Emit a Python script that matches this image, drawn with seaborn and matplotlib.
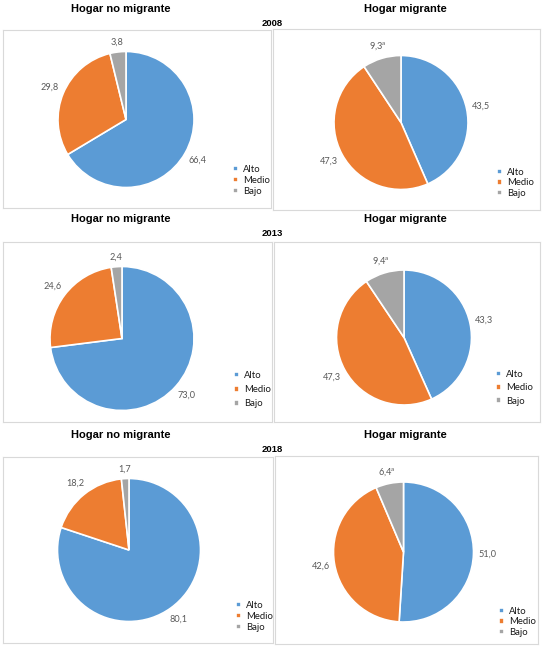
import numpy as np
import matplotlib
matplotlib.use("Agg")
import matplotlib.pyplot as plt
import seaborn as sns

# ---------------- data ----------------
categories = ["Alto", "Medio", "Bajo"]
years = ["2008", "2013", "2018"]
panel_titles = ["Hogar no migrante", "Hogar migrante"]

no_migrante_2008 = [66.4, 29.8, 3.8]
migrante_2008 = [43.5, 47.3, 9.3]
no_migrante_2013 = [73.0, 24.6, 2.4]
migrante_2013 = [43.3, 47.3, 9.4]
no_migrante_2018 = [80.1, 18.2, 1.7]
migrante_2018 = [51.0, 42.6, 6.4]

notes_no_migrante = ["", "", ""]
notes_migrante = ["", "", "a"]

series = [no_migrante_2008, migrante_2008,
          no_migrante_2013, migrante_2013,
          no_migrante_2018, migrante_2018]
notes = [notes_no_migrante, notes_migrante] * 3

# ---------------- style ----------------
sns.set_theme(style="white")
plt.rcParams["font.family"] = ["Lato", "DejaVu Sans"]
palette = sns.color_palette(["#5B9BD5", "#ED7D31", "#A5A5A5"])

W, H = 543, 653
fig = plt.figure(figsize=(W / 100, H / 100), dpi=100)
fig.patch.set_facecolor("white")


def fx(x):
    return x / W


def fy(y):
    return 1 - y / H


# layout (pixel positions, top-down)
boxes = [(3, 30, 271, 208), (273, 29, 540, 210),
         (3, 242, 272, 422), (274, 242, 540, 422),
         (3, 457, 273, 643), (275, 456, 538, 644)]
pies = [(126, 119.5, 68), (401, 122.5, 67),
        (122, 338.5, 72), (404, 337.5, 67.5),
        (129, 550, 71.5), (403.5, 552, 70)]
legends = [(233, 165, 0.2), (497, 168, 0.15),
           (234, 371, 0.55), (496, 370, 0.45),
           (236, 601, 0.2), (499, 607, 0.15)]
title_x = [121, 405]
title_y = [9, 219, 435]
year_y = [23, 233, 449]

renderer = fig.canvas.get_renderer()

for i, vals in enumerate(series):
    x0, y0, x1, y1 = boxes[i]
    cx, cy, r = pies[i]
    ax = fig.add_axes([fx(x0), fy(y1), (x1 - x0) / W, (y1 - y0) / H])
    wedges, _ = ax.pie(vals, colors=palette, startangle=90, counterclock=False,
                       wedgeprops=dict(edgecolor="white", linewidth=1.2))
    ax.set_xlim((x0 - cx) / r, (x1 - cx) / r)
    ax.set_ylim((cy - y1) / r, (cy - y0) / r)
    ax.set_aspect("auto")
    ax.set_frame_on(True)
    for sp in ax.spines.values():
        sp.set_visible(True)
        sp.set_color("#d9d9d9")
        sp.set_linewidth(0.8)

    total = sum(vals)
    cum = 0.0
    for v, note in zip(vals, notes[i]):
        mid = (cum + v / 2) / total
        cum += v
        theta = np.pi / 2 - 2 * np.pi * mid
        lab = f"{v:.1f}".replace(".", ",")
        if note:
            lab += r"$^{\mathregular{" + note + "}}$"
        t = ax.text(0, 0, lab, ha="center", va="center", fontsize=6.6,
                    color="#595959")
        bb = t.get_window_extent(renderer)
        c, s = np.cos(theta), np.sin(theta)
        d = r + 4.5 + bb.width / 2 * abs(c) + bb.height / 2 * abs(s)
        t.set_position((d * c / r, d * s / r))

    lx, ly, ls = legends[i]
    leg = ax.legend(wedges, categories, loc="upper left",
                    bbox_to_anchor=(fx(lx), fy(ly)), bbox_transform=fig.transFigure,
                    frameon=False, fontsize=6.8, handlelength=0.5, handleheight=0.5,
                    handletextpad=0.6, labelspacing=ls, borderpad=0, borderaxespad=0)
    for txt in leg.get_texts():
        txt.set_color("#1a1a1a")

for row in range(3):
    for col in range(2):
        fig.text(fx(title_x[col]), fy(title_y[row]), panel_titles[col],
                 ha="center", va="center", fontsize=8, fontweight="bold",
                 family=["Liberation Sans", "DejaVu Sans"], color="black")
    fig.text(fx(272), fy(year_y[row]), years[row], ha="center", va="center",
             fontsize=6.8, fontweight="bold",
             family=["Liberation Sans", "DejaVu Sans"], color="black")

fig.savefig("out.png", dpi=100, facecolor="white")
